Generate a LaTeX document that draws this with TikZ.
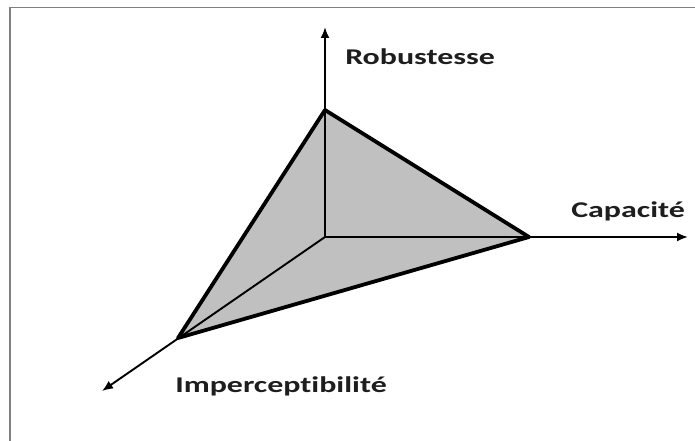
\documentclass[tikz,border=0pt]{standalone}
\usepackage{fontspec}
\setmainfont{Carlito}[Ligatures=NoCommon]
\usetikzlibrary{arrows.meta}
\definecolor{facegray}{RGB}{192,192,192}
\definecolor{framegray}{RGB}{128,128,128}
\definecolor{textdark}{RGB}{30,30,30}
\tikzset{
  axisline/.style={line width=1.9pt,-{Latex[length=11pt,width=9pt]}},
  edgeline/.style={line width=3.8pt,line join=round},
  lbl/.style={font=\bfseries\fontsize{22.5}{26}\selectfont,text=textdark,inner sep=0pt,xscale=1.42,anchor=base west}
}
\begin{document}
\begin{tikzpicture}[x=1pt,y=-1pt]
\useasboundingbox (0,0) rectangle (695,441);
\fill[white] (0,0) rectangle (695,441);
\draw[framegray,line width=1.2pt] (10,441) -- (10,7.5) -- (695,7.5);
\coordinate (O) at (325,237);
\coordinate (R) at (325,110);
\coordinate (C) at (529,237);
\coordinate (I) at (178,338);
\coordinate (Rtip) at (325,27);
\coordinate (Ctip) at (688,237);
\coordinate (Itip) at (102,391);
\fill[facegray] (R) -- (C) -- (I) -- cycle;
\draw[axisline] (O) -- (Rtip);
\draw[axisline] (O) -- (Ctip);
\draw[axisline] (O) -- (Itip);
\draw[edgeline] (R) -- (C) -- (I) -- cycle;
\node[lbl] (lr) at (345,65) {Robustesse};
\node[lbl] (lc) at (571,217) {Capacité};
\node[lbl] (li) at (175,392) {Imperceptibilité};
\end{tikzpicture}
\end{document}
